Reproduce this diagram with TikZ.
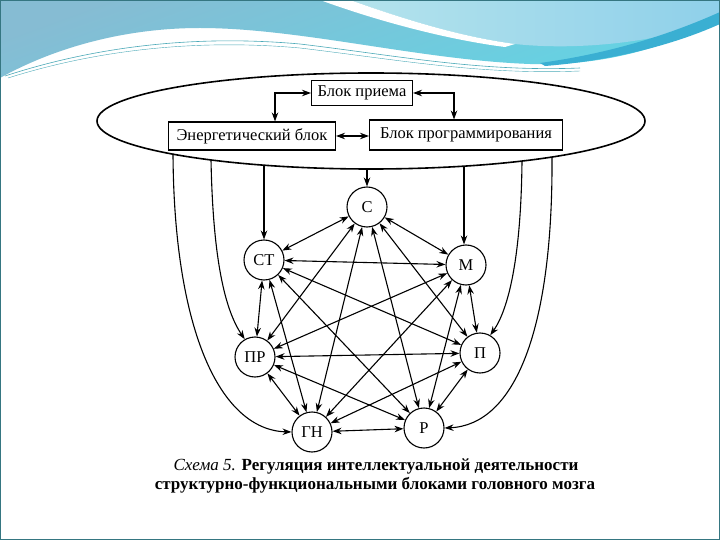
\documentclass[tikz,border=0pt]{standalone}
\usepackage{fontspec}
\setmainfont{Liberation Serif}
\usetikzlibrary{arrows.meta}
\definecolor{hdrA}{HTML}{86BCD3}
\definecolor{hdrB}{HTML}{62D4E4}
\definecolor{hdrC}{HTML}{B4E3EC}
\definecolor{hdrD}{HTML}{8FD0EA}
\definecolor{hdrE}{HTML}{3AAFD2}
\definecolor{hdrL}{HTML}{4BA9B8}
\tikzset{
  circ/.style={circle,draw,line width=1.1pt,minimum size=40pt,inner sep=0pt,font=\fontsize{16.5}{16.5}\selectfont},
  blk/.style={rectangle,draw,line width=1.1pt,inner sep=0pt,font=\fontsize{16.5}{16.5}\selectfont},
  dbl/.style={line width=1.1pt,{Stealth[length=9pt,width=6.5pt]}-{Stealth[length=9pt,width=6.5pt]}},
  sgl/.style={line width=1.1pt,-{Stealth[length=9pt,width=6.5pt]}},
}
\begin{document}
\begin{tikzpicture}[x=1pt,y=-1pt]
\useasboundingbox (0,0) rectangle (720,540);
\fill[white] (0,0) rectangle (720,540);
% header
\shade[top color=hdrA,bottom color=hdrB,shading angle=20] (0,0) -- (720,0) -- (720,20) .. controls (660,50) and (600,66) .. (530,64) .. controls (420,60) and (300,28) .. (200,28) .. controls (120,28) and (50,50) .. (0,78) -- cycle;
\shade[left color=hdrC,right color=hdrD] (350,0) -- (720,0) -- (720,20) .. controls (650,45) and (570,50) .. (515,44) .. controls (470,38) and (420,25) .. (350,0) -- cycle;
\fill[white] (320,0) -- (350,0) .. controls (420,25) and (470,38) .. (515,44) -- (505,47) .. controls (450,40) and (380,22) .. (320,0) -- cycle;
\fill[hdrE] (540,63) .. controls (620,52) and (680,30) .. (720,12) -- (720,24) .. controls (680,42) and (620,60) .. (545,66) -- cycle;
\draw[hdrL,line width=0.6pt] (5,76) .. controls (100,45) and (200,35) .. (300,44) .. controls (400,56) and (480,72) .. (580,68);
\draw[hdrL,line width=0.4pt] (8,78) .. controls (100,49) and (200,39) .. (300,48) .. controls (400,60) and (480,75) .. (580,71);
\draw[hdrL!70!black,line width=0.6pt] (0.3,0.3) rectangle (719.7,539.7);
% ellipse
\draw[line width=1.6pt] (371,121) ellipse [x radius=274, y radius=48];
% blocks
\node[blk,minimum width=101pt,minimum height=25pt] (BP) at (362,93) {Блок приема};
\node[blk,minimum width=167pt,minimum height=28pt] (EB) at (252,136) {Энергетический блок};
\node[blk,minimum width=193pt,minimum height=30pt] (PB) at (466,135) {Блок программирования};
\draw[dbl] (BP.west) -| (EB.north -| 275,0);
\draw[dbl] (BP.east) -| (PB.north -| 454,0);
\draw[dbl] (EB.east) -- (PB.west |- EB.east);
% nodes
\node[circ] (S) at (367,207) {С};
\node[circ] (CT) at (264,260) {СТ};
\node[circ] (M) at (466,265) {М};
\node[circ] (PR) at (255,357) {ПР};
\node[circ] (P) at (480,353) {П};
\node[circ] (GN) at (312,432) {ГН};
\node[circ] (R) at (424,428) {Р};
% ellipse exits
\coordinate (e1) at (173,154);
\coordinate (e2) at (211,160);
\coordinate (e3) at (264,165);
\coordinate (e4) at (367,169);
\coordinate (e5) at (464,166);
\coordinate (e6) at (522,161);
\coordinate (e7) at (552,157);
\draw[sgl] (e3) -- (CT.north);
\draw[sgl] (e4) -- (S.north);
\draw[sgl] (e5) -- (M.north -| e5);
\draw[sgl] (e1) .. controls (174,330) and (220,430) .. (GN.west);
\draw[sgl] (e2) .. controls (213,260) and (225,310) .. (PR.120);
\draw[sgl] (e6) .. controls (521,260) and (508,310) .. (P.60);
\draw[sgl] (e7) .. controls (553,330) and (515,425) .. (R.east);
% complete graph
\foreach \a/\b in {S/CT,S/M,S/PR,S/P,S/GN,S/R,CT/M,CT/PR,CT/P,CT/GN,CT/R,M/PR,M/P,M/GN,M/R,PR/P,PR/GN,PR/R,P/GN,P/R,GN/R}
  \draw[dbl] (\a) -- (\b);
% caption
\node[font=\fontsize{17}{17}\selectfont] (cap1) at (376,466) {\textit{Схема 5.} \textbf{Регуляция интеллектуальной деятельности}};
\node[font=\fontsize{17}{17}\selectfont\bfseries] (cap2) at (375,485) {структурно-функциональными блоками головного мозга};
\end{tikzpicture}
\end{document}
